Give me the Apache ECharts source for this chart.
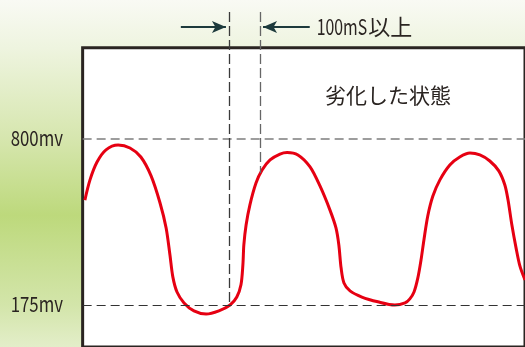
<!DOCTYPE html>
<html>
<head>
<meta charset="utf-8">
<script src="https://cdn.jsdelivr.net/npm/echarts@6/dist/echarts.min.js"></script>
<style>html,body{margin:0;padding:0;}#c{width:525px;height:347px;}</style>
</head>
<body>
<div id="c"></div>
<script>
// ---- data (time in ms, voltage in mV) ----
const timeMs = [9,25,47,75,113,150,184,216,244,263,275,284,297,319,350,388,428,463,484,497,503,506,513,525,544,563,588,619,641,675,713,744,775,794,803,810,819,838,875,925,978,1010,1025,1038,1050,1060,1069,1081,1097,1119,1150,1181,1213,1244,1275,1303,1322,1332,1344,1357,1369,1385];
const voltageMv = [570,646,713,759,777,766,732,661,559,465,363,281,224,183,153,141,153,175,205,251,326,401,476,552,634,683,721,743,749,740,695,623,533,465,401,315,258,228,205,187,175,183,198,224,277,345,420,510,585,646,702,732,747,740,717,680,627,570,476,390,322,269];
const refLevels = [800, 175];
const refLabels = ['800mv', '175mv'];
const markerTimes = [460, 558];       // vertical dashed guides
const markerEnds = [175, 672];        // where each guide stops (mV)
const guideTop = 1278;                // top of guides (mV scale)
const arrowLevel = 1221;              // arrow height (mV scale)
const leftArrow = [309, 450];
const rightArrow = [712, 566];
const boxTop = 1143;                  // top edge of plot box (mV scale)
const statePos = [760, 966];          // anchor of state caption (ms, mV)
const noteNum = '100mS';
const noteKanji = '以上';
const stateText = '劣化した状態';

const X_MIN = 0, X_MAX = 1385, Y_MIN = 17, Y_MAX = 1323;

const chart = echarts.init(document.getElementById('c'), null, {renderer: 'canvas'});
const dark = '#2a2421';
const arrowColor = '#1d3a3c';

const option = {
  animation: false,
  backgroundColor: new echarts.graphic.LinearGradient(0, 0, 0, 1, [
    {offset: 0, color: '#f9faf4'},
    {offset: 0.14, color: '#eef4df'},
    {offset: 0.40, color: '#d6e6ae'},
    {offset: 0.62, color: '#bdd97c'},
    {offset: 0.88, color: '#d3e5aa'},
    {offset: 1, color: '#e3eec9'}
  ]),
  grid: {left: 82, right: 0, top: 0, bottom: 0, containLabel: false},
  xAxis: {type: 'value', min: X_MIN, max: X_MAX, show: false},
  yAxis: {type: 'value', min: Y_MIN, max: Y_MAX, show: false},
  series: [
    {
      type: 'line', data: [], z: 1, clip: false, silent: true,
      markArea: {
        silent: true,
        itemStyle: {color: '#ffffff', borderColor: dark, borderWidth: 3},
        data: [[{coord: [2, boxTop]}, {coord: [X_MAX + 20, Y_MIN - 40]}]]
      }
    },
    {
      type: 'line', data: [], z: 3, clip: false, silent: true,
      markLine: {
        silent: true, symbol: ['none', 'none'], animation: false,
        label: {show: false},
        data: [
          [{coord: [2, refLevels[0]], lineStyle: {color: '#7d7d7d', width: 1.5, type: [9, 5]}}, {coord: [X_MAX, refLevels[0]]}],
          [{coord: [2, refLevels[1]], lineStyle: {color: '#333333', width: 1.2, type: [9, 5]}}, {coord: [X_MAX, refLevels[1]]}],
          [{coord: [markerTimes[0], guideTop], lineStyle: {color: '#3a3a3a', width: 1.3, type: [10, 4]}}, {coord: [markerTimes[0], markerEnds[0]]}],
          [{coord: [markerTimes[1], guideTop], lineStyle: {color: '#666666', width: 1.3, type: [10, 4]}}, {coord: [markerTimes[1], markerEnds[1]]}]
        ]
      }
    },
    {
      type: 'line', data: [], z: 3, clip: false, silent: true,
      markLine: {
        silent: true, symbol: ['none', 'arrow'], symbolSize: [9, 14], animation: false,
        label: {show: false},
        lineStyle: {color: arrowColor, width: 2.2, type: 'solid'},
        data: [
          [{coord: [leftArrow[0], arrowLevel]}, {coord: [leftArrow[1], arrowLevel]}],
          [{coord: [rightArrow[0], arrowLevel]}, {coord: [rightArrow[1], arrowLevel]}]
        ]
      }
    },
    {
      type: 'line', z: 4, clip: false, silent: true,
      data: timeMs.map((t, i) => [t, voltageMv[i]]),
      showSymbol: false, smooth: 0.3,
      lineStyle: {color: '#e60012', width: 3}
    }
  ]
};
chart.setOption(option);

// ---- text annotations positioned from the axes ----
const ctx = document.createElement('canvas').getContext('2d');
function w(text, font) { ctx.font = font; return ctx.measureText(text).width; }
const fam = '"Noto Sans CJK JP", "Noto Sans", sans-serif';
const labelFont = '21px ' + fam;
const px = (x, y) => chart.convertToPixel({xAxisIndex: 0, yAxisIndex: 0}, [x, y]);
const graphics = [];
refLevels.forEach((v, i) => {
  const p = px(0, v);
  graphics.push({
    type: 'text', x: p[0] - 19, y: p[1] - 1, scaleX: 0.8, silent: true, z: 20,
    style: {text: refLabels[i], font: labelFont, fill: dark, align: 'right', verticalAlign: 'middle'}
  });
});
const noteFont = '22px ' + fam;
const pStart = px(rightArrow[0], arrowLevel);
const numX = pStart[0] + 7;
const numScale = 0.72;
graphics.push({
  type: 'text', x: numX, y: pStart[1], scaleX: numScale, silent: true, z: 20,
  style: {text: noteNum, font: noteFont, fill: dark, align: 'left', verticalAlign: 'middle'}
});
graphics.push({
  type: 'text', x: numX + w(noteNum, noteFont) * numScale + 1, y: pStart[1], silent: true, z: 20,
  style: {text: noteKanji, font: noteFont, fill: dark, align: 'left', verticalAlign: 'middle'}
});
const pState = px(statePos[0], statePos[1]);
graphics.push({
  type: 'text', x: pState[0], y: pState[1], silent: true, z: 20,
  style: {text: stateText, font: '21px ' + fam, fill: dark, align: 'left', verticalAlign: 'middle'}
});
chart.setOption({graphic: graphics});
</script>
</body>
</html>
